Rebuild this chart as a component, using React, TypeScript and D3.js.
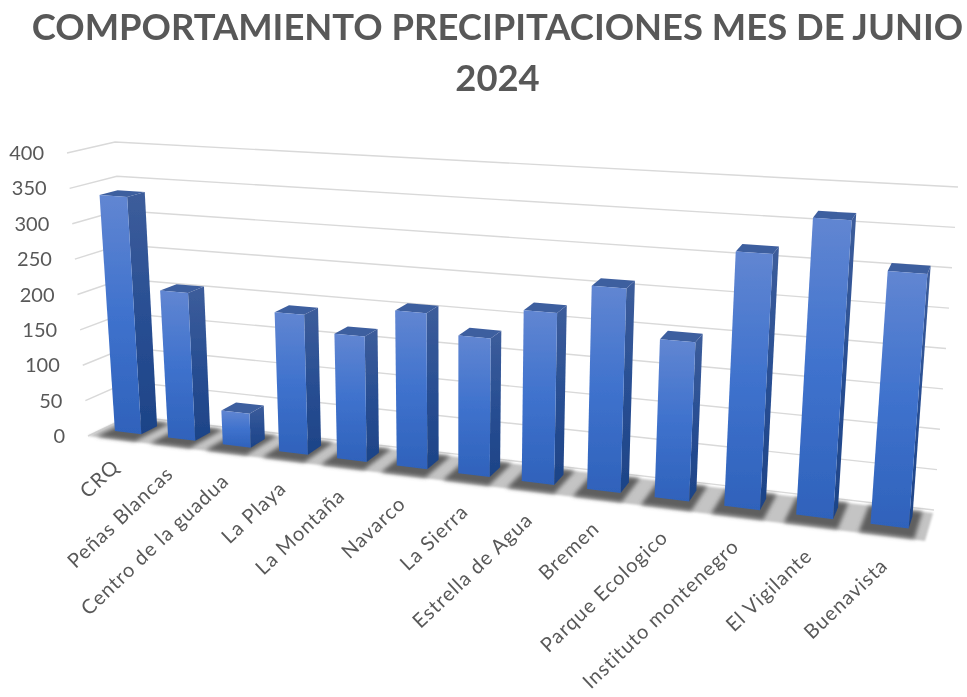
import React from 'react'
import * as d3 from 'd3'

const WIDTH = 967
const HEIGHT = 697

const titleLines = ['COMPORTAMIENTO PRECIPITACIONES MES DE JUNIO', '2024']
const categories = ['CRQ', 'Peñas Blancas', 'Centro de la guadua', 'La Playa', 'La Montaña', 'Navarco', 'La Sierra',
    'Estrella de Agua', 'Bremen', 'Parque Ecologico', 'Instituto montenegro', 'El Vigilante', 'Buenavista']
const rainfall = [336, 207, 47, 191, 169, 208, 182, 223, 262, 201, 319, 367, 308]
const valueTicks = [0, 50, 100, 150, 200, 250, 300, 350, 400]

// corners of the 3d box on screen: [front, back] at [left, right]
const floorFront = [[88, 436], [925, 541]]
const floorBack = [[130, 416], [934, 510]]
const topFront = [[67, 153], [951, 205]]
const topBack = [[115, 142], [958, 187]]

const uScale = d3.scaleLinear().domain([0, categories.length]).range([0, 1])
const vScale = d3.scaleLinear().domain([0, 400]).range([0, 1])
const labelDx = d3.scaleLinear().domain([0, categories.length - 1]).range([6, 3])
const labelDy = d3.scaleLinear().domain([0, categories.length - 1]).range([29, 31])
const PERSP = 1.22

// category position, depth 0..1 (front to back), value -> pixel
function project(i: number, depth: number, value: number): [number, number] {
    const u = uScale(i)
    const t = u / (u + PERSP * (1 - u))
    const v = vScale(value)
    const at = (k: number) => {
        const bottom = d3.interpolateNumber(
            d3.interpolateNumber(floorFront[0][k], floorFront[1][k])(t),
            d3.interpolateNumber(floorBack[0][k], floorBack[1][k])(t))(depth)
        const top = d3.interpolateNumber(
            d3.interpolateNumber(topFront[0][k], topFront[1][k])(t),
            d3.interpolateNumber(topBack[0][k], topBack[1][k])(t))(depth)
        return d3.interpolateNumber(bottom, top)(v)
    }
    return [at(0), at(1)]
}

const poly = d3.line().curve(d3.curveLinearClosed)
const path = d3.line()

const BAR_L = 0.25
const BAR_R = 0.75
const BAR_FRONT = 0.33
const BAR_BACK = 0.72
const SHADOW_BACK = 0.9

export default function App() {
    const n = categories.length
    return (
        <svg width={WIDTH} height={HEIGHT} style={{ position: 'absolute', left: 0, top: 0, display: 'block' }}
            fontFamily="Lato, 'Open Sans', sans-serif">
            <defs>
                <linearGradient id="front" x1="0" y1="0" x2="0" y2="1">
                    <stop offset="0" stopColor="#6186d2" />
                    <stop offset="0.5" stopColor="#3f72cd" />
                    <stop offset="1" stopColor="#2f62bb" />
                </linearGradient>
                <linearGradient id="side" x1="0" y1="0" x2="0" y2="1">
                    <stop offset="0" stopColor="#3d5d9b" />
                    <stop offset="0.5" stopColor="#294f93" />
                    <stop offset="1" stopColor="#1d4387" />
                </linearGradient>
                <filter id="soft"><feGaussianBlur stdDeviation="0.6" /></filter>
                <filter id="shadow" x="-20%" y="-20%" width="140%" height="140%"><feGaussianBlur stdDeviation="2.2" /></filter>
                <filter id="edge" x="-5%" y="-5%" width="110%" height="110%"><feGaussianBlur stdDeviation="1" /></filter>
            </defs>

            <g filter="url(#soft)">
                {titleLines.map((line, i) => (
                    <text key={line} x={497.5} y={40 + i * 51} textAnchor="middle" fontSize={36.4} fontWeight={700} fill="#595959">{line}</text>
                ))}

                {valueTicks.map(tick => (
                    <g key={tick}>
                        <path d={path([project(0, 0, tick), project(0, 1, tick), project(n, 1, tick)]) || ''}
                            fill="none" stroke="#d9d9d9" strokeWidth={1.4} />
                        <text x={project(0, 0, tick)[0] - 23} y={project(0, 0, tick)[1] + 7} textAnchor="end" fontSize={20} fill="#595959">{tick}</text>
                    </g>
                ))}
            </g>

            <path filter="url(#edge)" fill="#c4c4c4"
                d={poly([project(0, 0, 0), project(n, 0, 0), project(n, SHADOW_BACK, 0), project(0, SHADOW_BACK, 0)]) || ''} />
            <g filter="url(#shadow)">
                {categories.map((c, i) => (
                    <path key={c} fill="#5f5f5f"
                        d={poly([project(i + 0.14, 0.03, 0), project(i + 0.86, 0.03, 0), project(i + 0.86, SHADOW_BACK, 0), project(i + 0.14, SHADOW_BACK, 0)]) || ''} />
                ))}
            </g>

            <g filter="url(#soft)">
                {rainfall.map((value, i) => {
                    const fl = i + BAR_L
                    const fr = i + BAR_R
                    return (
                        <g key={categories[i]}>
                            <path fill="url(#side)" d={poly([project(fr, BAR_FRONT, value), project(fr, BAR_BACK, value), project(fr, BAR_BACK, 0), project(fr, BAR_FRONT, 0)]) || ''} />
                            <path fill="#3e5e9f" d={poly([project(fl, BAR_FRONT, value), project(fr, BAR_FRONT, value), project(fr, BAR_BACK, value), project(fl, BAR_BACK, value)]) || ''} />
                            <path fill="url(#front)" d={poly([project(fl, BAR_FRONT, value), project(fr, BAR_FRONT, value), project(fr, BAR_FRONT, 0), project(fl, BAR_FRONT, 0)]) || ''} />
                        </g>
                    )
                })}

                {categories.map((c, i) => {
                    const [x, y] = project(i + 0.5, 0, 0)
                    return (
                        <text key={c} transform={`translate(${x + labelDx(i)},${y + labelDy(i)}) rotate(-43.5)`} textAnchor="end" fontSize={20}
                            letterSpacing={1} fill="#595959">{c}</text>
                    )
                })}
            </g>
        </svg>
    )
}
